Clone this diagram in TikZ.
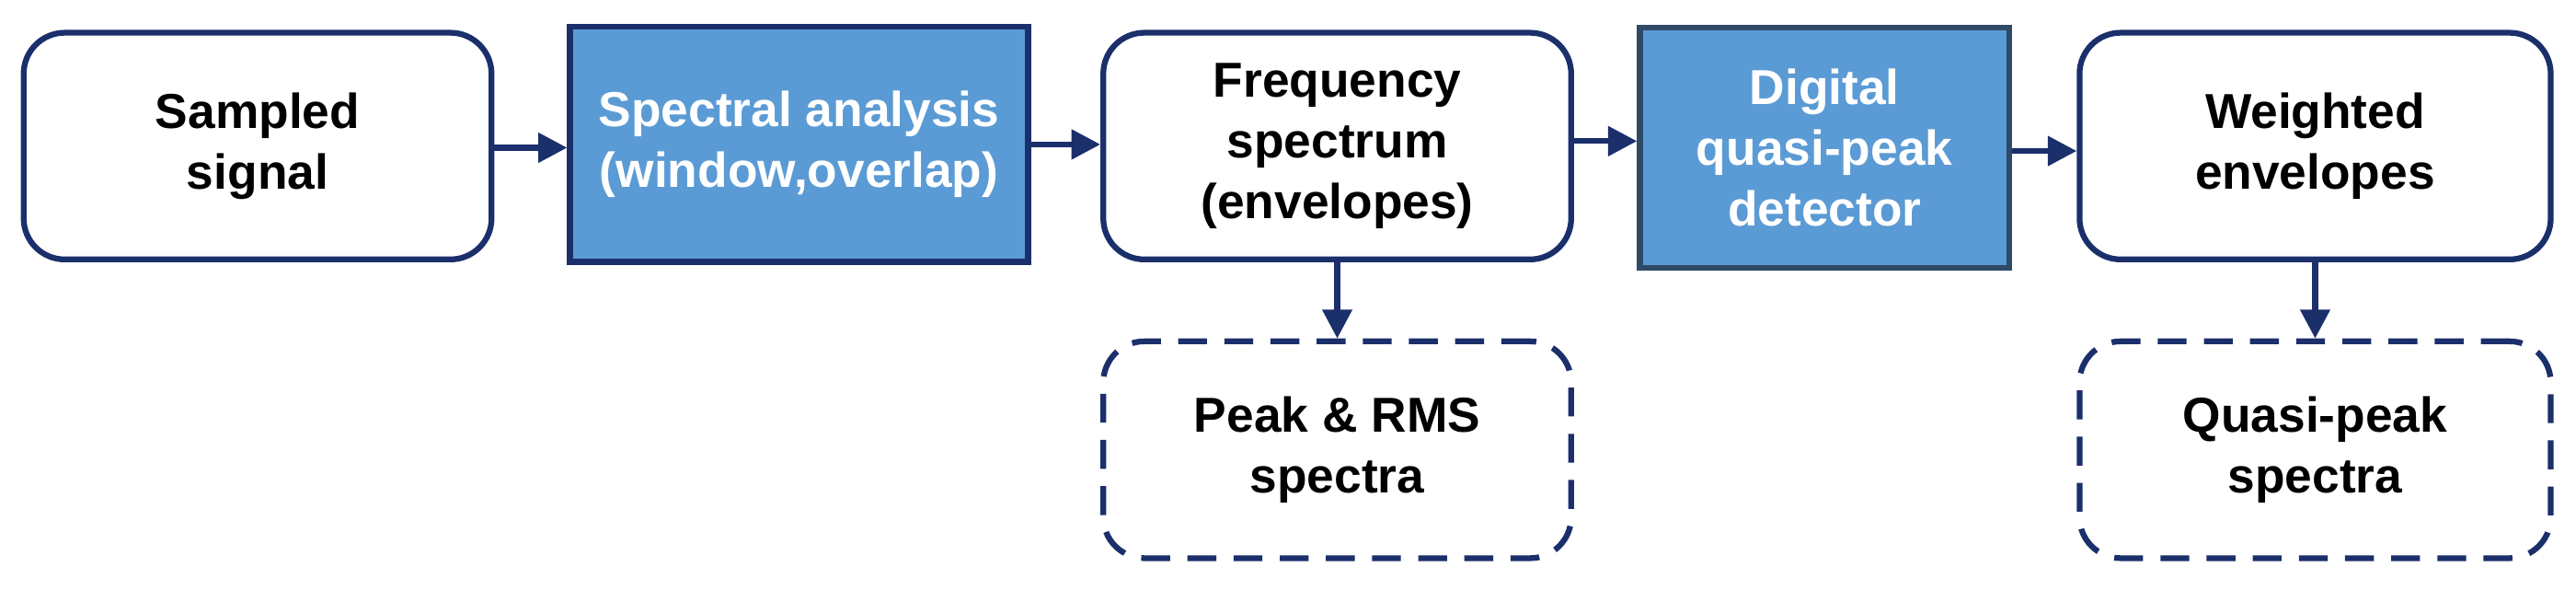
\documentclass[tikz,border=0pt]{standalone}
\usepackage{fontspec}
\setmainfont{Liberation Sans}
\usetikzlibrary{arrows.meta}
\definecolor{navy}{HTML}{1B2F6B}
\definecolor{fillb}{HTML}{5B9BD5}
\definecolor{gb}{HTML}{2F4A66}
\begin{document}
\begin{tikzpicture}[x=0.01cm,y=-0.01cm,
  box/.style={draw=navy,line width=1pt,rounded corners=0.25cm,fill=white,align=center,font=\fontsize{8.5}{10.5}\selectfont\bfseries,text=black},
  proc/.style={draw=navy,line width=1pt,fill=fillb,align=center,font=\fontsize{8.5}{10.5}\selectfont\bfseries,text=white},
  dbox/.style={box,dash pattern=on 5pt off 3pt},
  arr/.style={draw=navy,line width=1pt,-{Triangle[length=5pt,width=5pt]}}]
\useasboundingbox (0,0) rectangle (1570,359);
\node[box,minimum width=2.85cm,minimum height=1.38cm] (a) at (157,89) {Sampled\\signal};
\node[proc,minimum width=2.79cm,minimum height=1.43cm] (b) at (487,88) {Spectral analysis\\(window,overlap)};
\node[box,minimum width=2.85cm,minimum height=1.38cm] (c) at (815,89) {Frequency\\spectrum\\(envelopes)};
\node[proc,draw=gb,minimum width=2.25cm,minimum height=1.46cm] (d) at (1112,90) {Digital\\quasi-peak\\detector};
\node[box,minimum width=2.87cm,minimum height=1.38cm] (e) at (1411,89) {Weighted\\envelopes};
\node[dbox,minimum width=2.85cm,minimum height=1.32cm] (f) at (815,274) {Peak \& RMS\\spectra};
\node[dbox,minimum width=2.87cm,minimum height=1.32cm] (g) at (1411,274) {Quasi-peak\\spectra};
\draw[arr] (a.east |- 0,90) -- (b.west |- 0,90);
\draw[arr] (b.east |- 0,88) -- (c.west |- 0,88);
\draw[arr] (c.east |- 0,86) -- (d.west |- 0,86);
\draw[arr] (d.east |- 0,92) -- (e.west |- 0,92);
\draw[arr] (c.south) -- (f.north);
\draw[arr] (e.south) -- (g.north);
\end{tikzpicture}
\end{document}
